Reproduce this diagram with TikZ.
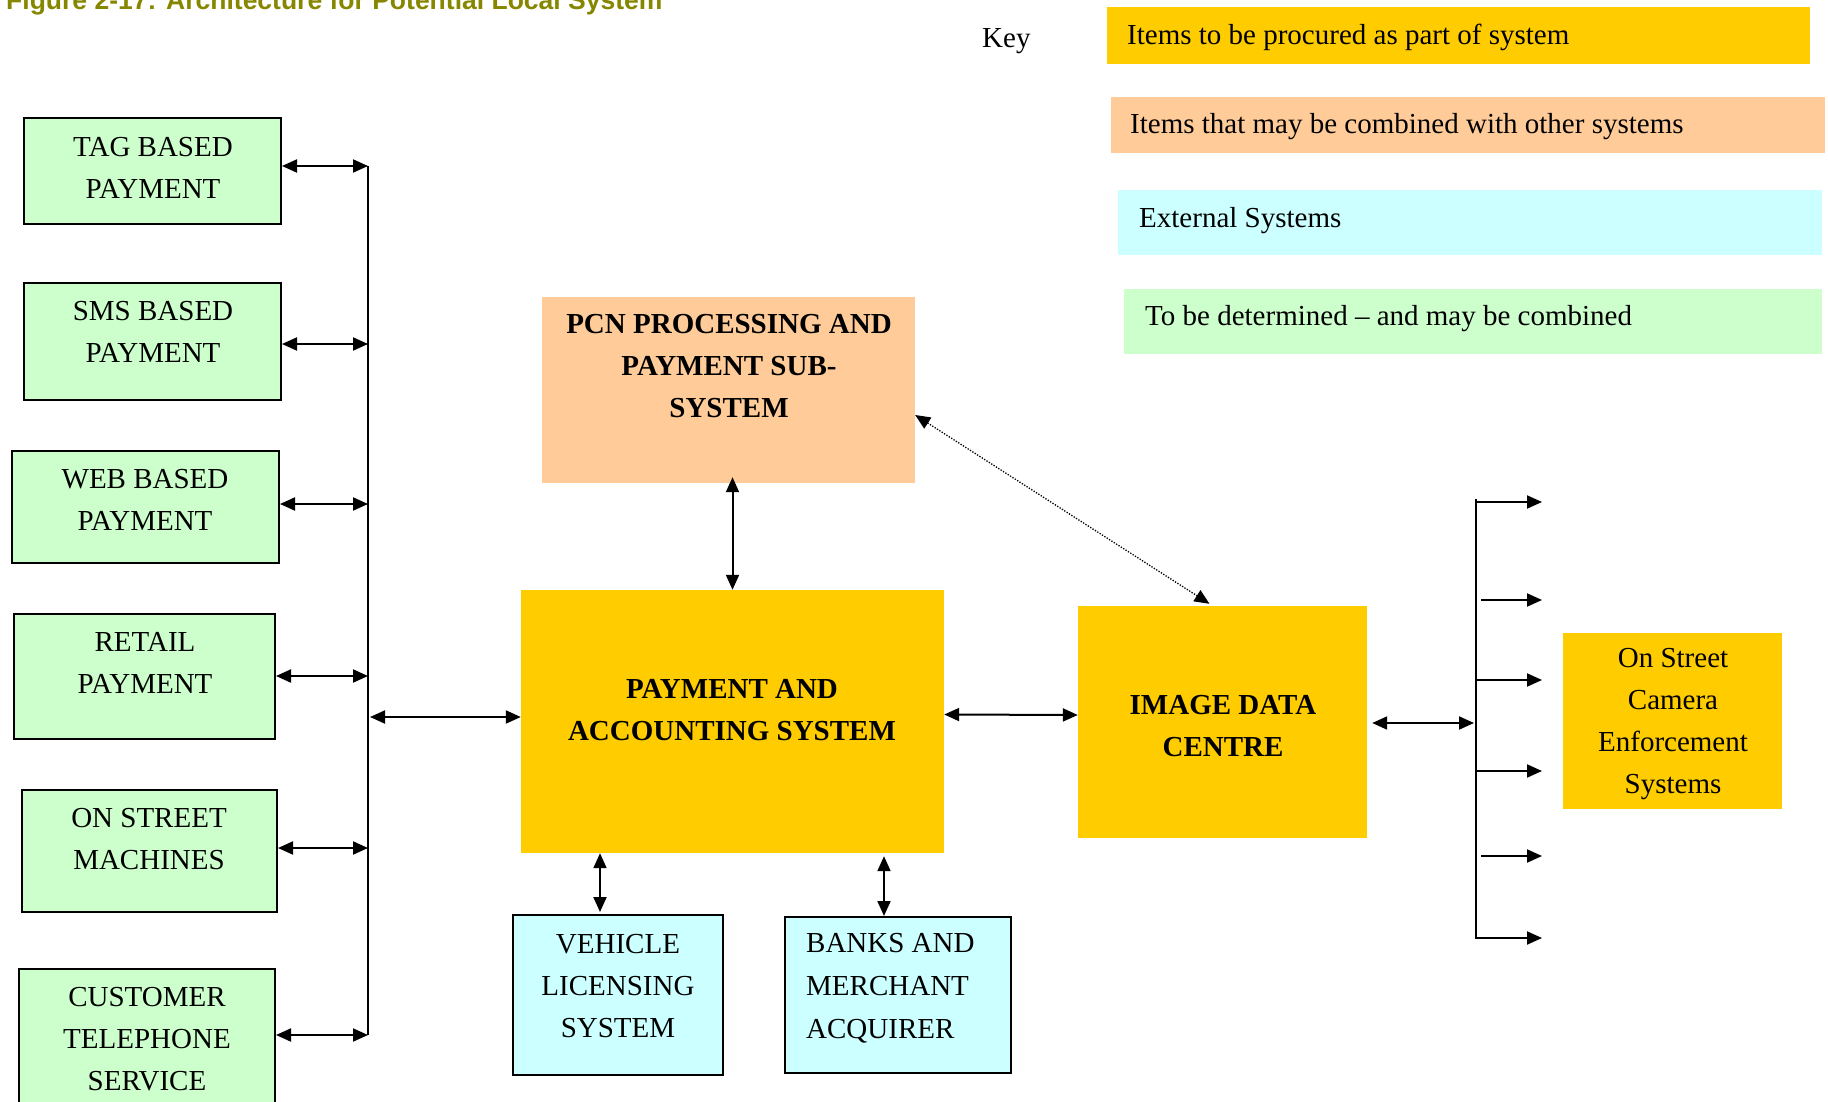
\documentclass[tikz,border=0pt]{standalone}
\usepackage{fontspec}
\setmainfont{Liberation Serif}
\newfontfamily\titlefont{Liberation Sans}
\usetikzlibrary{arrows.meta}
\definecolor{gold}{HTML}{FFCC00}
\definecolor{peach}{HTML}{FFCC99}
\definecolor{lcyan}{HTML}{CCFFFF}
\definecolor{lgreen}{HTML}{CCFFCC}
\definecolor{olivetitle}{HTML}{868600}
\begin{document}
\begin{tikzpicture}[x=1pt,y=-1pt,
  sz/.style 2 args={minimum width=#1pt, minimum height=#2pt},
  greenbox/.style={draw=black, line width=2pt, fill=lgreen, inner sep=0pt},
  cyanbox/.style={draw=black, line width=2pt, fill=lcyan, inner sep=0pt},
  goldbox/.style={fill=gold, inner sep=0pt},
  peachbox/.style={fill=peach, inner sep=0pt},
  keybox/.style={inner sep=0pt},
  txt/.style={font=\fontsize{29}{42}\selectfont, align=center, inner sep=0pt},
  btxt/.style={font=\fontsize{29}{42}\selectfont\bfseries, align=center, inner sep=0pt},
  ltxt/.style={font=\fontsize{29}{43}\selectfont, align=left, inner sep=0pt},
  tip/.tip={Triangle[length=15pt,width=13pt]},
  dbl/.style={line width=2pt, tip-tip},
  sgl/.style={line width=2pt, -tip},
  dotarrow/.style={line width=1.3pt, dash pattern=on 1.3pt off 1.5pt, tip-tip},
  busline/.style={line width=2pt}
]
\useasboundingbox (0,0) rectangle (1828,1102);

% title
\node[anchor=base west, inner sep=0pt, text=olivetitle, font=\titlefont\bfseries\fontsize{26.5}{30}\selectfont] (title) at (6,10) {Figure 2-17: Architecture for Potential Local System};

% key
\node[anchor=base west, inner sep=0pt, font=\fontsize{29}{34}\selectfont] (key) at (982,48) {Key};
\node[goldbox, sz={703}{57}] (k1) at (1458.5,35.5) {};
\node[peachbox, sz={714}{56}] (k2) at (1468,125) {};
\node[keybox, fill=lcyan, sz={704}{65}] (k3) at (1470,222.5) {};
\node[keybox, fill=lgreen, sz={698}{65}] (k4) at (1473,321.5) {};
\node[ltxt, anchor=west] (k1t) at (1127,37) {Items to be procured as part of system};
\node[ltxt, anchor=west] (k2t) at (1130,127) {Items that may be combined with other systems};
\node[ltxt, anchor=west] (k3t) at (1139,221) {External Systems};
\node[ltxt, anchor=west] (k4t) at (1145,319) {To be determined -- and may be combined};

% left boxes
\node[greenbox, sz={257}{106}] (tag) at (152.5,171) {};
\node[txt] (tagt) at (153,167.5) {TAG BASED\\PAYMENT};
\node[greenbox, sz={257}{117}] (sms) at (152.5,341.5) {};
\node[txt] (smst) at (153,332) {SMS BASED\\PAYMENT};
\node[greenbox, sz={267}{112}] (web) at (145.5,507) {};
\node[txt] (webt) at (145,500) {WEB BASED\\PAYMENT};
\node[greenbox, sz={261}{125}] (retail) at (144.5,676.5) {};
\node[txt] (retailt) at (145,663) {RETAIL\\PAYMENT};
\node[greenbox, sz={255}{122}] (onst) at (149.5,851) {};
\node[txt] (onstt) at (149,839) {ON STREET\\MACHINES};
\node[greenbox, sz={256}{146}] (cust) at (147,1042) {};
\node[txt] (custt) at (147,1039) {CUSTOMER\\TELEPHONE\\SERVICE};

% centre boxes
\node[goldbox, sz={423}{263}] (pas) at (732.5,721.5) {};
\node[btxt] (past) at (732,710) {PAYMENT AND\\ACCOUNTING SYSTEM};
\node[peachbox, sz={373}{186}] (pcn) at (728.5,390) {};
\node[btxt] (pcnt) at (729,366) {PCN PROCESSING AND\\PAYMENT SUB-\\SYSTEM};
\node[goldbox, sz={289}{232}] (idc) at (1222.5,722) {};
\node[btxt] (idct) at (1223,726) {IMAGE DATA\\CENTRE};
\node[goldbox, sz={219}{176}] (cam) at (1672.5,721) {};
\node[txt] (camt) at (1673,724) {On Street\\Camera\\Enforcement\\Systems};
\node[cyanbox, sz={210}{160}] (vls) at (618,995) {};
\node[txt] (vlst) at (618,986) {VEHICLE\\LICENSING\\SYSTEM};
\node[cyanbox, sz={226}{156}] (banks) at (898,995) {};
\node[ltxt, anchor=west] (bankst) at (806,988) {BANKS AND\\MERCHANT\\ACQUIRER};

% left bus
\coordinate (b1) at (368,166);
\coordinate (b2) at (368,344);
\coordinate (b3) at (368,504);
\coordinate (b4) at (368,676);
\coordinate (b5) at (368,848);
\coordinate (b6) at (368,1035);
\draw[busline] (b1) -- (b6);
\draw[dbl] (tag.east |- b1) -- (b1);
\draw[dbl] (sms.east |- b2) -- (b2);
\draw[dbl] (web.east |- b3) -- (b3);
\draw[dbl] (retail.east |- b4) -- (b4);
\draw[dbl] (onst.east |- b5) -- (b5);
\draw[dbl] (cust.east |- b6) -- (b6);
\coordinate (bp) at (370,717);
\draw[dbl] (bp) -- (pas.west |- bp);

% centre connectors
\draw[dbl] ([yshift=6pt]pas.north |- pcn.south) -- (pas.north);
\coordinate (xv) at (600,0);
\coordinate (xb) at (884,0);
\draw[dbl] (pas.south -| xv) -- ([yshift=2pt]vls.north -| xv);
\draw[dbl] ([yshift=-3pt]pas.south -| xb) -- (banks.north -| xb);
\draw[dbl] ([yshift=7pt]pas.east) -- ([yshift=7pt]idc.west);
\draw[dotarrow] ([yshift=-25pt]pcn.east) -- ([xshift=-13pt,yshift=2pt]idc.north);

% right bus
\coordinate (r0) at (1476,499);
\coordinate (r7) at (1476,939);
\draw[busline] (r0) -- (r7);
\coordinate (rb) at (1474,723);
\draw[dbl] ([xshift=5pt,yshift=-1pt]idc.east) -- (rb);
\foreach \yy/\xs [count=\i] in {502/1477, 600/1481, 680/1477, 771/1477, 856/1481, 938/1477} {
  \coordinate (rs\i) at (\xs,\yy);
  \coordinate (re\i) at (1542,\yy);
  \draw[sgl] (rs\i) -- (re\i);
}
\end{tikzpicture}
\end{document}
